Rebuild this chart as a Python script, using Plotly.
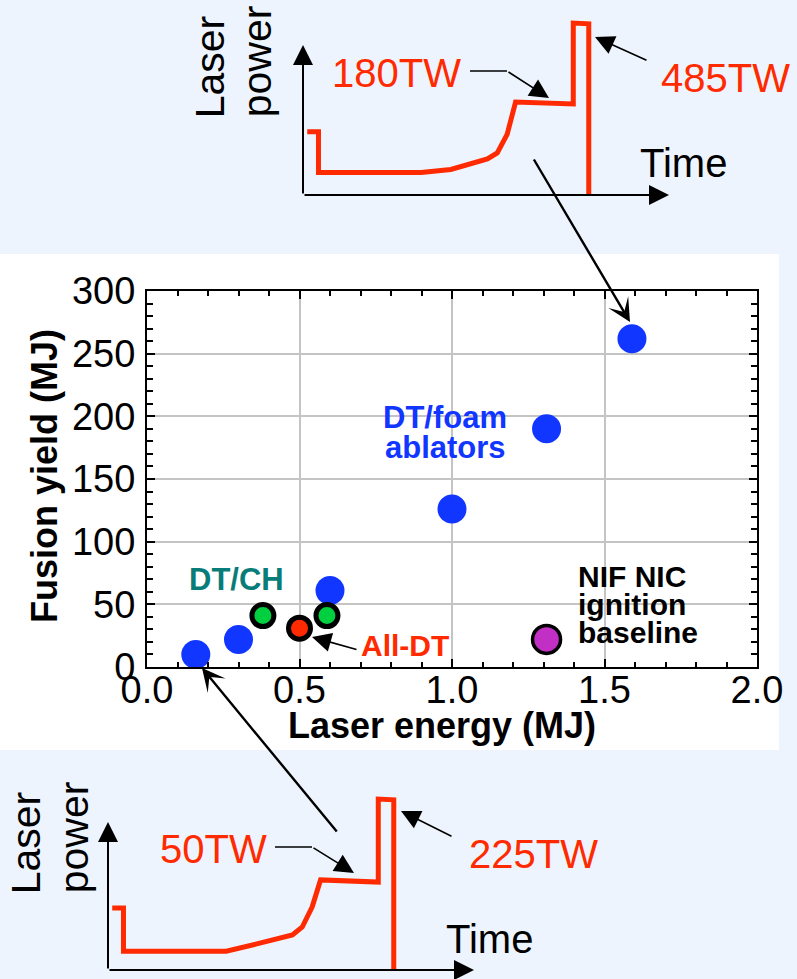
import plotly.graph_objects as go

W, H = 797, 979
FONT = "Liberation Sans, Arial, Helvetica, sans-serif"

BLUE = "#1036ff"
GREEN = "#00d040"
RED = "#ff2a00"
MAGENTA = "#c22fc4"
TEAL = "#087c78"
PAGE_BG = "#eef4fd"

# ---- target performance: laser energy (MJ) vs fusion yield (MJ)
foam_energy = [0.16, 0.30, 0.60, 1.00, 1.31, 1.59]
foam_yield = [10, 22, 61, 126, 190, 262]
ch_energy = [0.38, 0.59]
ch_yield = [41, 41]
alldt_energy = [0.50]
alldt_yield = [31]
nic_energy = [1.31]
nic_yield = [22]

x_ticks = [0.0, 0.5, 1.0, 1.5, 2.0]
x_tick_labels = ["0.0", "0.5", "1.0", "1.5", "2.0"]
y_ticks = [0, 50, 100, 150, 200, 250, 300]
y_tick_labels = ["0", "50", "100", "150", "200", "250", "300"]

# ---- schematic pulse shapes (time in ns, power in TW, log power scale)
pulse_time_ns = [0.3, 1.1, 1.1, 8.4, 10.5, 13.1, 13.8, 14.5, 15.1, 19.2, 19.2, 20.3, 20.3]
high_pulse_tw = [126, 126, 76, 76, 79, 90, 97, 122, 182, 178, 485, 480, 1]
low_pulse_tw = [30.5, 30.5, 13.8, 13.8, 15.7, 18.6, 21.5, 31, 51, 49, 225, 222, 1]


def px(x):
    return x / W


def py(y):
    return 1 - y / H


def label(text, x, y, size, color, bold=False, angle=0, xanchor="center"):
    return dict(
        text=f"<b>{text}</b>" if bold else text,
        x=px(x), y=py(y), xref="paper", yref="paper",
        showarrow=False, textangle=angle,
        xanchor=xanchor, yanchor="middle",
        font=dict(family=FONT, size=size, color=color),
    )


def arrow(tail, head, width, style, size):
    return dict(
        text="", x=px(head[0]), y=py(head[1]), xref="paper", yref="paper",
        ax=tail[0] - head[0], ay=tail[1] - head[1], axref="pixel", ayref="pixel",
        showarrow=True, arrowhead=style, arrowwidth=width, arrowsize=size,
        arrowcolor="black",
    )


fig = go.Figure()

# main scatter
fig.add_trace(go.Scatter(
    x=foam_energy, y=foam_yield, mode="markers", cliponaxis=False,
    marker=dict(size=29, color=BLUE, line=dict(width=0)), xaxis="x", yaxis="y"))
fig.add_trace(go.Scatter(
    x=ch_energy, y=ch_yield, mode="markers", cliponaxis=False,
    marker=dict(size=22, color=GREEN, line=dict(width=5, color="black")), xaxis="x", yaxis="y"))
fig.add_trace(go.Scatter(
    x=alldt_energy, y=alldt_yield, mode="markers", cliponaxis=False,
    marker=dict(size=22, color=RED, line=dict(width=5, color="black")), xaxis="x", yaxis="y"))
fig.add_trace(go.Scatter(
    x=nic_energy, y=nic_yield, mode="markers", cliponaxis=False,
    marker=dict(size=28, color=MAGENTA, line=dict(width=3.5, color="black")), xaxis="x", yaxis="y"))

# pulse shapes
fig.add_trace(go.Scatter(
    x=pulse_time_ns, y=high_pulse_tw, mode="lines",
    line=dict(color=RED, width=5), xaxis="x2", yaxis="y2"))
fig.add_trace(go.Scatter(
    x=pulse_time_ns, y=low_pulse_tw, mode="lines",
    line=dict(color=RED, width=5), xaxis="x3", yaxis="y3"))

axis_common = dict(
    automargin=False,
    showline=True, linewidth=2, linecolor="black", mirror="allticks",
    ticks="inside", ticklen=8, tickwidth=2, tickcolor="black",
    showgrid=True, gridcolor="#c4c4c4", gridwidth=1.5, zeroline=False,
    tickfont=dict(family=FONT, size=38, color="black"),
)
inset_common = dict(automargin=False, visible=False)

annotations = [
    # top pulse inset
    label("Laser", 209.8, 66.5, 41, "black", angle=-90),
    label("power", 257.8, 61.5, 41, "black", angle=-90),
    label("180TW", 396, 73.1, 40, RED),
    label("485TW", 725.5, 78.1, 40, RED),
    label("Time", 683, 163.1, 40, "black"),
    arrow((303, 195), (303, 45), 2, 2, 2.0),
    arrow((303, 195), (669, 195), 2, 2, 2.0),
    arrow((507, 71), (549, 98), 1.6, 2, 2.4),
    arrow((648, 61), (595, 37), 1.6, 2, 2.4),
    # bottom pulse inset
    label("Laser", 25.8, 842.5, 41, "black", angle=-90),
    label("power", 73.8, 837.5, 41, "black", angle=-90),
    label("50TW", 213.5, 849.1, 40, RED),
    label("225TW", 533, 854.1, 40, RED),
    label("Time", 489, 939.1, 40, "black"),
    arrow((108, 970), (108, 822), 2, 2, 2.0),
    arrow((108, 970), (474, 970), 2, 2, 2.0),
    arrow((312, 847), (354, 873), 1.6, 2, 2.4),
    arrow((453, 837), (401, 811), 1.6, 2, 2.4),
    # main plot labels
    label("DT/foam", 444.7, 417.3, 31, BLUE, bold=True),
    label("ablators", 445.5, 447.3, 31, BLUE, bold=True),
    label("DT/CH", 236.5, 579.3, 31, TEAL, bold=True),
    label("All-DT", 405, 645.6, 30, RED, bold=True),
    arrow((358, 650), (312, 637), 1.6, 2, 2.4),
    label("NIF NIC", 576, 576.6, 30, "black", bold=True, xanchor="left"),
    label("ignition", 576, 604.6, 30, "black", bold=True, xanchor="left"),
    label("baseline", 576, 632.6, 30, "black", bold=True, xanchor="left"),
    label("Laser energy (MJ)", 441.5, 725.5, 36, "black", bold=True),
    label("Fusion yield (MJ)", 44.5, 476.5, 36, "black", bold=True, angle=-90),
    # pulse-to-point pointers
    arrow((533, 158), (630, 322), 2.4, 3, 1.6),
    arrow((338, 833), (202, 668), 2.4, 3, 1.6),
]

shapes = [
    dict(type="rect", xref="paper", yref="paper", x0=0, x1=px(779), y0=py(750), y1=py(254),
         fillcolor="white", line=dict(width=0), layer="below"),
    dict(type="line", xref="paper", yref="paper", x0=px(470), x1=px(507), y0=py(71), y1=py(71),
         line=dict(color="black", width=1.6)),
    dict(type="line", xref="paper", yref="paper", x0=px(275), x1=px(312), y0=py(847), y1=py(847),
         line=dict(color="black", width=1.6)),
]

fig.update_layout(
    width=W, height=H, autosize=False,
    margin=dict(l=0, r=0, t=0, b=0, pad=0),
    paper_bgcolor=PAGE_BG, plot_bgcolor="rgba(0,0,0,0)",
    showlegend=False,
    font=dict(family=FONT, color="black"),
    xaxis=dict(
        domain=[px(147), px(757)], range=[0, 2], anchor="y",
        tickmode="array", tickvals=x_ticks, ticktext=x_tick_labels,
        ticklabelstandoff=-12,
        minor=dict(tickmode="linear", tick0=0, dtick=0.1, ticks="inside", ticklen=5,
                   tickwidth=1.5, tickcolor="black", showgrid=False),
        **axis_common),
    yaxis=dict(
        domain=[py(667), py(291)], range=[0, 300], anchor="x",
        tickmode="array", tickvals=y_ticks, ticktext=y_tick_labels,
        ticklabelstandoff=2,
        minor=dict(tickmode="linear", tick0=0, dtick=10, ticks="inside", ticklen=6,
                   tickwidth=1.5, tickcolor="black", showgrid=False),
        **axis_common),
    xaxis2=dict(domain=[px(303), px(669)], range=[0, 26], anchor="y2", **inset_common),
    yaxis2=dict(domain=[py(195), py(15)], type="log", range=[1.7601, 2.7289],
                anchor="x2", **inset_common),
    xaxis3=dict(domain=[px(108), px(474)], range=[0, 26], anchor="y3", **inset_common),
    yaxis3=dict(domain=[py(970), py(785)], type="log", range=[0.990, 2.464],
                anchor="x3", **inset_common),
    annotations=annotations,
    shapes=shapes,
)

fig.write_html("out.html")
